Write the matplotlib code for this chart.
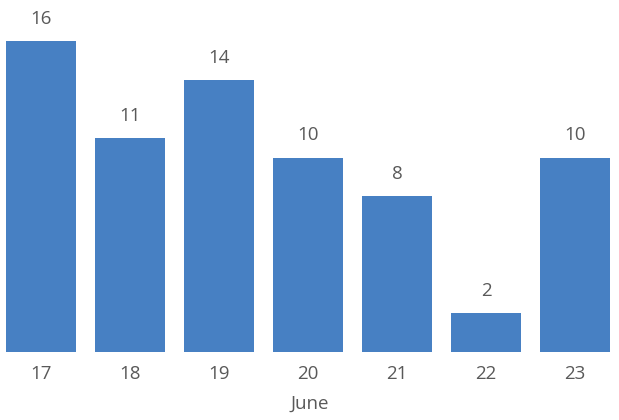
import matplotlib.pyplot as plt

days = ['17', '18', '19', '20', '21', '22', '23']
counts = [16, 11, 14, 10, 8, 2, 10]

bar_color = '#4780C3'
text_color = '#595959'

plt.rcParams['font.family'] = ['Open Sans', 'DejaVu Sans']

fig = plt.figure(figsize=(6.19, 4.2), dpi=100)
ax = fig.add_axes([0, 68 / 420, 1, 352 / 420])

x = range(len(days))
bars = ax.bar(x, counts, width=0.7865, color=bar_color)

# value labels above each bar
for b, v in zip(bars, counts):
    ax.annotate(str(v), (b.get_x() + b.get_width() / 2, v),
                xytext=(0, 9.5), textcoords='offset points',
                ha='center', va='bottom', fontsize=13.5, color=text_color)

ax.set_xlim(-41 / 89, 578 / 89)
ax.set_ylim(0, 352 / 19.44)
ax.set_xticks(list(x))
ax.set_xticklabels(days)
ax.tick_params(axis='x', length=0, pad=9.5, labelsize=13.5, labelcolor=text_color)
ax.set_yticks([])
ax.set_xlabel('June', fontsize=13.5, color=text_color, labelpad=8)

for s in ax.spines.values():
    s.set_visible(False)

fig.savefig('out.png', dpi=100)
